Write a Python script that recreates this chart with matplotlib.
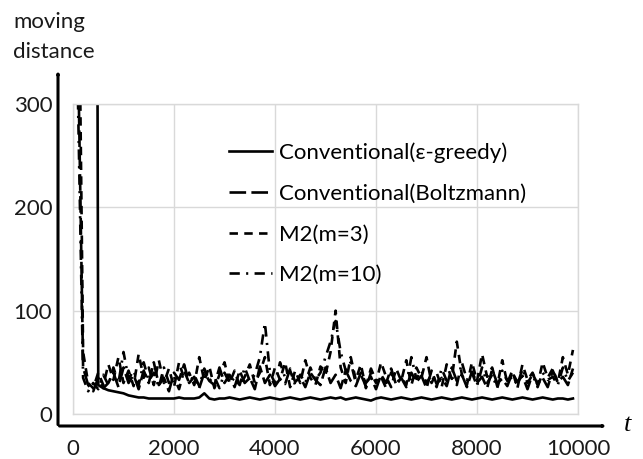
import matplotlib

matplotlib.use("Agg")
import matplotlib.pyplot as plt
import numpy as np

plt.rcParams["font.family"] = ["Lato", "DejaVu Sans"]

# time steps (every 100 steps)
steps = np.arange(0, 10000, 100)

# moving distance per series
eps_greedy = [
    2000, 2000, 2000, 2000, 2000, 28, 25, 23, 22, 21,
    20, 18, 17, 16, 16, 15, 15, 15, 15, 15,
    15, 16, 15, 15, 15, 16, 20, 15, 14, 15,
    15, 16, 15, 14, 15, 16, 15, 14, 15, 16,
    15, 14, 15, 16, 15, 14, 15, 16, 15, 14,
    15, 16, 15, 16, 14, 15, 16, 15, 14, 13,
    15, 16, 15, 14, 15, 16, 15, 14, 15, 16,
    15, 14, 15, 16, 15, 14, 15, 16, 15, 14,
    15, 16, 15, 14, 15, 16, 15, 14, 15, 16,
    15, 14, 15, 16, 15, 14, 15, 15, 14, 15,
]
boltzmann = [
    900, 350, 45, 28, 22, 35, 25, 30, 40, 26,
    45, 30, 38, 24, 42, 30, 50, 28, 35, 22,
    40, 33, 48, 30, 36, 25, 40, 32, 28, 45,
    30, 38, 26, 42, 30, 35, 24, 46, 30, 38,
    27, 34, 29, 44, 31, 36, 26, 40, 33, 28,
    45, 30, 38, 25, 42, 32, 27, 40, 30, 36,
    24, 38, 30, 44, 28, 35, 26, 40, 31, 37,
    25, 42, 29, 35, 27, 45, 32, 38, 26, 41,
    30, 36, 25, 43, 30, 34, 27, 40, 31, 37,
    24, 39, 29, 35, 26, 42, 31, 36, 28, 44,
]
m2_m3 = [
    1200, 500, 60, 30, 25, 40, 28, 48, 33, 55,
    30, 42, 27, 58, 35, 45, 28, 52, 30, 44,
    26, 50, 34, 40, 28, 55, 32, 46, 25, 38,
    50, 30, 42, 27, 36, 48, 30, 40, 55, 28,
    45, 33, 50, 26, 42, 30, 52, 35, 28, 46,
    38, 60, 100, 45, 30, 55, 33, 48, 25, 40,
    30, 50, 36, 26, 44, 32, 52, 28, 45, 35,
    55, 30, 40, 26, 48, 34, 70, 38, 28, 50,
    32, 58, 36, 45, 27, 52, 30, 42, 25, 48,
    33, 40, 28, 50, 35, 44, 30, 55, 38, 62,
]
m2_m10 = [
    1200, 300, 35, 22, 30, 24, 38, 28, 45, 30,
    60, 34, 42, 28, 50, 32, 40, 26, 45, 30,
    36, 24, 42, 30, 38, 27, 44, 32, 36, 25,
    40, 30, 35, 28, 45, 32, 38, 55, 88, 40,
    30, 50, 35, 42, 28, 38, 30, 45, 33, 40,
    55, 70, 90, 60, 42, 50, 30, 38, 27, 44,
    32, 36, 25, 40, 30, 35, 28, 55, 34, 42,
    30, 38, 26, 44, 32, 36, 28, 50, 33, 40,
    27, 45, 30, 38, 25, 42, 32, 36, 28, 44,
    30, 38, 26, 40, 33, 36, 28, 45, 32, 40,
]

labels = [
    "Conventional(\u03b5-greedy)",
    "Conventional(Boltzmann)",
    "M2(m=3)",
    "M2(m=10)",
]
series = [eps_greedy, boltzmann, m2_m3, m2_m10]
dashes = ["-", (0, (6.3, 2)), (0, (3.2, 2.4)), (0, (3.9, 2.4, 0.8, 2.4))]

x_ticks = [0, 2000, 4000, 6000, 8000, 10000]
y_ticks = [0, 100, 200, 300]

W, H = 643, 459
FS = 16
TXT = "#1a1a1a"

fig = plt.figure(figsize=(W / 100, H / 100), dpi=100)
ax = fig.add_axes([73 / W, 1 - 414 / H, 505 / W, 310 / H])

for values, label, ls in zip(series, labels, dashes):
    ax.plot(steps, values, color="black", lw=1.9, linestyle=ls, label=label)

ax.set_xlim(0, 10000)
ax.set_ylim(0, 300)
ax.set_xticks(x_ticks)
ax.set_yticks(y_ticks)
ax.tick_params(length=0, labelsize=FS, colors=TXT)
ax.tick_params(axis="x", pad=18)
ax.tick_params(axis="y", pad=15)
ax.grid(True, color="#d9d9d9", lw=1)
ax.set_axisbelow(True)
for sp in ax.spines.values():
    sp.set_color("#d9d9d9")
    sp.set_linewidth(1)

ax.legend(
    loc="upper left",
    bbox_to_anchor=((229 - 73) / 505, (414 - 142) / 310),
    frameon=False,
    fontsize=FS,
    handlelength=1.95,
    handletextpad=0.3,
    labelspacing=0.94,
    borderaxespad=0,
    borderpad=0,
)

# black arrow axes
arrow_kw = dict(arrowstyle="-|>,head_length=0.6,head_width=0.3", color="black", lw=2.2)
ox, oy = 58 / W, 1 - 426 / H
fig.add_artist(matplotlib.patches.FancyArrowPatch((ox - 0.002, oy), (609 / W, oy), transform=fig.transFigure, **arrow_kw))
fig.add_artist(matplotlib.patches.FancyArrowPatch((ox, oy - 0.003), (ox, 1 - 68 / H), transform=fig.transFigure, **arrow_kw))

fig.text(13 / W, 1 - 28 / H, "moving", ha="left", va="baseline", fontsize=FS, color=TXT)
fig.text(13 / W, 1 - 58 / H, "distance", ha="left", va="baseline", fontsize=FS, color=TXT)
fig.text(624 / W, 1 - 425 / H, "t", ha="left", va="center", fontsize=19, family="Liberation Serif", style="italic")

fig.savefig("out.png", dpi=100)
